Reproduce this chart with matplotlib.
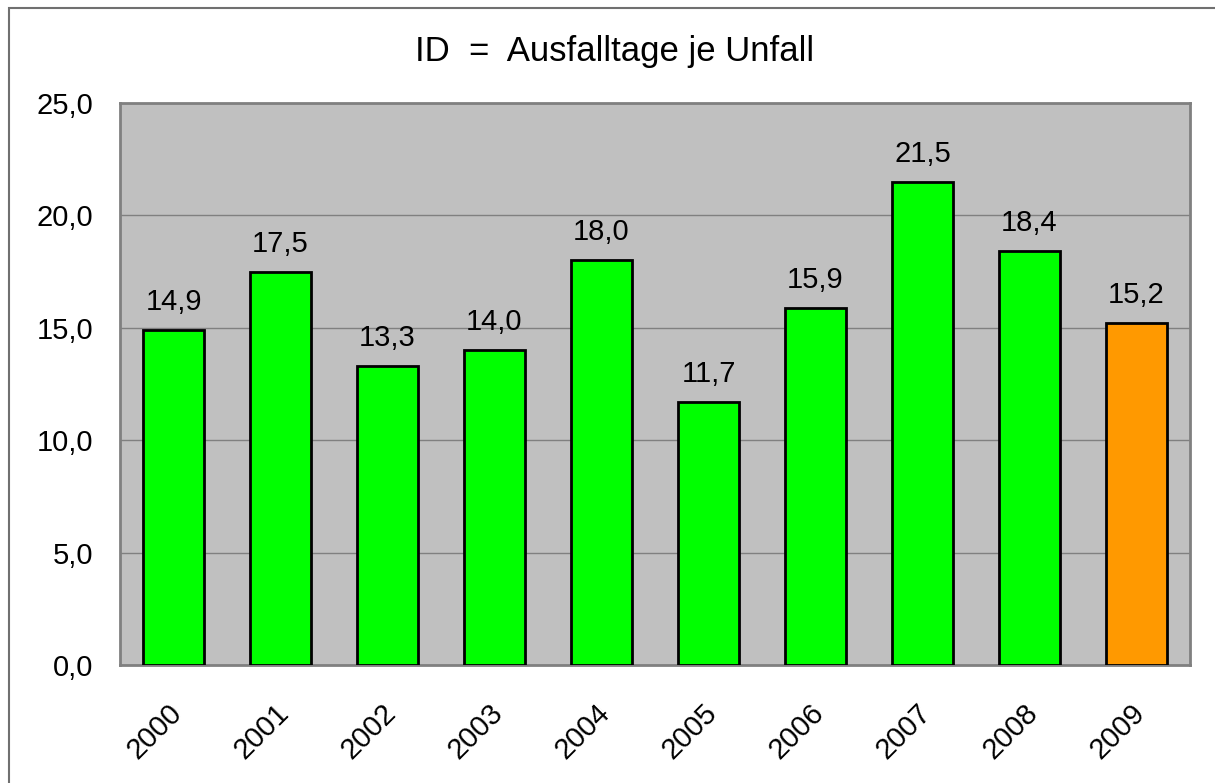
import numpy as np
import matplotlib.pyplot as plt
import matplotlib.transforms as mtransforms
from matplotlib.patches import Rectangle

plt.rcParams['font.family'] = ['Liberation Sans', 'DejaVu Sans']

# data
years = ['2000', '2001', '2002', '2003', '2004', '2005', '2006', '2007', '2008', '2009']
values = [14.9, 17.5, 13.3, 14.0, 18.0, 11.7, 15.9, 21.5, 18.4, 15.2]
colors = ['#00FF00'] * 9 + ['#FF9900']
y_ticks = [0, 5, 10, 15, 20, 25]

fig = plt.figure(figsize=(12.15, 7.83), dpi=100)
ax = fig.add_axes([120 / 1215, 1 - 665 / 783, 1070 / 1215, 562 / 783])

# frame around the whole chart
fig.patches.append(Rectangle((9 / 1215, -0.01), 1.2, 1 - 8 / 783 + 0.01,
                             transform=fig.transFigure, fill=False,
                             edgecolor='#707070', linewidth=1.5))

x = np.arange(len(years))
bars = ax.bar(x, values, width=0.57, color=colors, edgecolor='black', linewidth=2, zorder=3)

ax.set_facecolor('#C0C0C0')
ax.set_xlim(-0.5, len(years) - 0.5)
ax.set_ylim(0, 25)
ax.set_yticks(y_ticks)
ax.set_yticklabels([f'{v:.1f}'.replace('.', ',') for v in y_ticks], fontsize=21)
ax.yaxis.grid(True, color='#808080', linewidth=1, zorder=1)
ax.set_axisbelow(True)
ax.tick_params(axis='y', length=0, pad=19)

ax.set_xticks(x)
ax.set_xticklabels(years, fontsize=21, rotation=45, ha='right', rotation_mode='anchor')
ax.tick_params(axis='x', length=0, pad=24)
shift = mtransforms.ScaledTranslation(-6 / 100, 0, fig.dpi_scale_trans)
for lbl in ax.get_xticklabels():
    lbl.set_transform(lbl.get_transform() + shift)

for sp in ax.spines.values():
    sp.set_color('#808080')
    sp.set_linewidth(2)

for b, v in zip(bars, values):
    ax.annotate(f'{v:.1f}'.replace('.', ','), (b.get_x() + b.get_width() / 2, v),
                xytext=(0, 10), textcoords='offset points',
                ha='center', va='bottom', fontsize=21)

fig.text(615 / 1215, 1 - 52 / 783, 'ID  =  Ausfalltage je Unfall', ha='center', va='center', fontsize=25)

fig.savefig('out.png', dpi=100)
